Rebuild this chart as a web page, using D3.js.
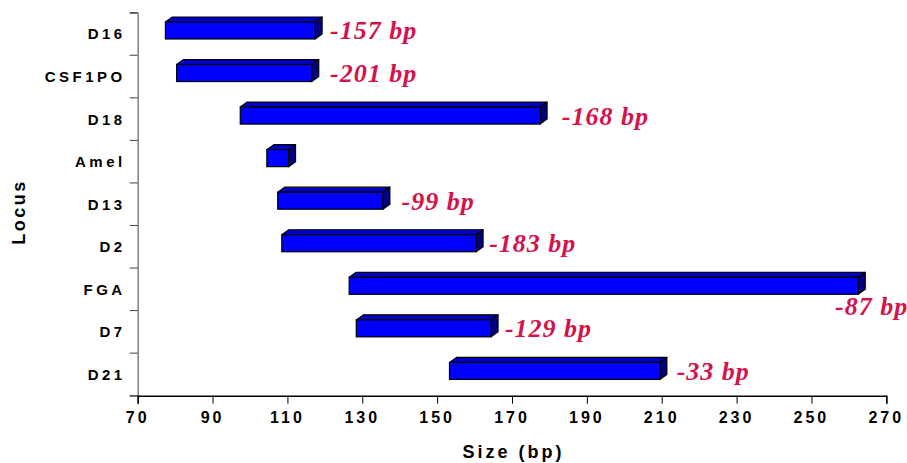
<!DOCTYPE html>
<html>
<head>
<meta charset="utf-8">
<script src="https://cdn.jsdelivr.net/npm/d3@7"></script>
<style>
  body { margin: 0; background: #fff; }
  svg { display: block; }
</style>
</head>
<body>
<div id="chart"></div>
<script>
const loci = ["D16", "CSF1PO", "D18", "Amel", "D13", "D2", "FGA", "D7", "D21"];
const sizeMin = [77.4, 80.4, 97.4, 104.5, 107.4, 108.5, 126.5, 128.4, 153.3];
const sizeMax = [117.4, 116.5, 177.5, 110.3, 135.5, 160.4, 262.5, 164.4, 209.5];
const shiftText = ["-157 bp", "-201 bp", "-168 bp", "", "-99 bp", "-183 bp", "-87 bp", "-129 bp", "-33 bp"];
const shiftAt = [121.4, 121.4, 183.3, null, 140.5, 163.9, 256.3, 168.1, 214.0];
const xTicks = [70, 90, 110, 130, 150, 170, 190, 210, 230, 250, 270];

const W = 907, H = 463;
const margin = { top: 12.7, right: 20.7, bottom: 67.3, left: 137.7 },
  width = W - margin.left - margin.right,
  height = H - margin.top - margin.bottom;

const svg = d3.select("#chart")
  .append("svg")
  .attr("width", W)
  .attr("height", H)
  .append("g")
  .attr("transform", `translate(${margin.left},${margin.top})`);

const x = d3.scaleLinear().domain([70, 270]).range([0, width]);
const y = d3.scaleBand().domain(loci).range([0, height]).padding(0);

const data = loci.map((l, i) => ({
  locus: l, lo: sizeMin[i], hi: sizeMax[i], text: shiftText[i], at: shiftAt[i]
}));

// y axis
const yAxis = svg.append("g")
  .call(d3.axisLeft(y).tickSize(8).tickFormat(""));
yAxis.select(".domain").attr("stroke", "#808080").attr("stroke-width", 1.5);
yAxis.selectAll(".tick line").attr("stroke", "#404040")
  .attr("transform", `translate(0,${-y.bandwidth() / 2})`);
// extra tick at bottom
svg.append("line").attr("x1", -8).attr("x2", 0).attr("y1", height).attr("y2", height)
  .attr("stroke", "#404040");

svg.append("g").selectAll("text")
  .data(loci)
  .join("text")
  .attr("x", -12)
  .attr("y", d => y(d) + y.bandwidth() / 2 + 5.5)
  .attr("text-anchor", "end")
  .style("font-family", "'Liberation Sans', Arial, sans-serif")
  .style("font-weight", "bold")
  .style("font-size", "15px")
  .style("letter-spacing", "3.5px")
  .text(d => d);

// x axis
const xAxis = svg.append("g")
  .attr("transform", `translate(0,${height})`)
  .call(d3.axisBottom(x).tickValues(xTicks).tickSize(8).tickFormat(""));
xAxis.select(".domain").attr("stroke", "#000").attr("stroke-width", 1.5);
xAxis.selectAll(".tick line").attr("stroke", "#000");

svg.append("g").selectAll("text")
  .data(xTicks)
  .join("text")
  .attr("x", d => x(d))
  .attr("y", height + 27.5)
  .attr("text-anchor", "middle")
  .style("font-family", "'Liberation Sans', Arial, sans-serif")
  .style("font-weight", "bold")
  .style("font-size", "16px")
  .style("letter-spacing", "3px")
  .text(d => d);

// 3D bars
const dx = 7, dy = 5;
const bars = svg.append("g").selectAll("g")
  .data(data)
  .join("g");

const faceTop = d => y(d.locus) + y.bandwidth() / 2 - 12;
const faceBot = d => y(d.locus) + y.bandwidth() / 2 + 5;

bars.append("polygon")
  .attr("points", d => {
    const x0 = x(d.lo), x1 = x(d.hi), t = faceTop(d);
    return [[x0, t], [x0 + dx, t - dy], [x1 + dx, t - dy], [x1, t]].join(" ");
  })
  .attr("fill", "#0000c8")
  .attr("stroke", "#000")
  .attr("stroke-width", 1.2)
  .attr("stroke-linejoin", "round");

bars.append("polygon")
  .attr("points", d => {
    const x1 = x(d.hi), t = faceTop(d), b = faceBot(d);
    return [[x1, t], [x1 + dx, t - dy], [x1 + dx, b - dy], [x1, b]].join(" ");
  })
  .attr("fill", "#000080")
  .attr("stroke", "#000")
  .attr("stroke-width", 1.2)
  .attr("stroke-linejoin", "round");

bars.append("rect")
  .attr("x", d => x(d.lo))
  .attr("y", faceTop)
  .attr("width", d => x(d.hi) - x(d.lo))
  .attr("height", d => faceBot(d) - faceTop(d))
  .attr("fill", "#0000ff")
  .attr("stroke", "#000")
  .attr("stroke-width", 1.2);

// shift labels
const below = new Set(["FGA"]);
svg.append("g").selectAll("text")
  .data(data.filter(d => d.text))
  .join("text")
  .attr("x", d => x(d.at))
  .attr("y", d => y(d.locus) + y.bandwidth() / 2 + (below.has(d.locus) ? 26 : 5.5))
  .style("font-family", "'Liberation Serif', 'Times New Roman', serif")
  .style("font-weight", "bold")
  .style("font-style", "italic")
  .style("font-size", "26px")
  .style("letter-spacing", "1px")
  .attr("fill", "#d4124c")
  .text(d => d.text);

// axis titles
svg.append("text")
  .attr("text-anchor", "middle")
  .attr("x", width / 2 + 1.5)
  .attr("y", height + 62.6)
  .style("font-family", "'Liberation Sans', Arial, sans-serif")
  .style("font-weight", "bold")
  .style("font-size", "18px")
  .style("letter-spacing", "3px")
  .text("Size (bp)");

svg.append("text")
  .attr("text-anchor", "middle")
  .attr("transform", `translate(${25 - margin.left},${212 - margin.top})rotate(-90)`)
  .style("font-family", "'Liberation Sans', Arial, sans-serif")
  .style("font-weight", "bold")
  .style("font-size", "18px")
  .style("letter-spacing", "2.5px")
  .text("Locus");
</script>
</body>
</html>
